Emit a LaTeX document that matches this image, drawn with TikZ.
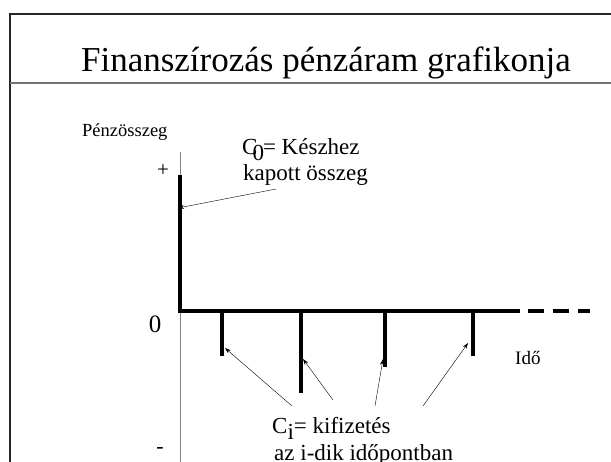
\documentclass[tikz,border=0pt]{standalone}
\usepackage{fontspec}
\setmainfont{Liberation Serif}
\usetikzlibrary{arrows.meta}
\tikzset{
  lbl/.style={inner sep=0pt, font=\fontsize{23}{25}\selectfont},
  bar/.style={line width=4pt, black},
  ptr/.style={thin, -{Stealth[length=6pt,width=4pt]}},
}
\begin{document}
\begin{tikzpicture}[x=1pt,y=-1pt]
\useasboundingbox (0,0) rectangle (611,461);
\clip (0,0) rectangle (611,461);
% frame
\draw[line width=1.2pt, black!85] (10,480) -- (10,14) -- (630,14);
\draw[line width=1.5pt, black!55] (10,83) -- (630,83);
\node[inner sep=0pt, anchor=base, font=\fontsize{35}{40}\selectfont] (title) at (326,71) {Finanszírozás pénzáram grafikonja};
% axis
\draw[line width=1pt, black!50] (180,152) -- (180,470);
\coordinate (o) at (180,311);
\coordinate (top) at (180,177);
\draw[bar, line cap=rect] (top) -- (o) -- (518,311);
\draw[bar, dash pattern=on 16pt off 9pt] (528,311) -- (590,311);
% payment bars
\coordinate (b1) at (222,311); \coordinate (e1) at (222,356);
\coordinate (b2) at (301,311); \coordinate (e2) at (301,393);
\coordinate (b3) at (385,311); \coordinate (e3) at (385,367);
\coordinate (b4) at (473,311); \coordinate (e4) at (473,356);
\foreach \i in {1,2,3,4} \draw[bar] (b\i) -- (e\i);
% labels
\node[lbl, anchor=base west, font=\fontsize{18.5}{20}\selectfont] (yl) at (82,136) {Pénzösszeg};
\node[lbl, font=\fontsize{21}{22}\selectfont] (plus) at (163,171) {+};
\node[lbl, font=\fontsize{25}{26}\selectfont] (zero) at (155,324) {0};
\node[lbl, font=\fontsize{22}{24}\selectfont] (minus) at (160,450) {-};
\node[lbl, anchor=base west, font=\fontsize{19}{20}\selectfont] (ido) at (515,364) {Idő};
\node[lbl, anchor=base west] (c0a) at (242,154) {C\kern-5pt\raisebox{-6pt}{0}\kern-1pt= Készhez};
\node[lbl, anchor=base west] (c0b) at (243,180) {kapott összeg};
\node[lbl, anchor=base west] (cia) at (272,433) {C\raisebox{-6pt}{i}= kifizetés};
\node[lbl, anchor=base west] (cib) at (274,460) {az i-dik időpontban};
% pointers
\coordinate (s0) at (276,189); \coordinate (t0) at (178,208);
\draw[ptr] (s0) -- (t0);
\coordinate (s1) at (292,406); \coordinate (t1) at (225,348);
\coordinate (s2) at (333,400); \coordinate (t2) at (303,359);
\coordinate (s3) at (375,406); \coordinate (t3) at (383,359);
\coordinate (s4) at (423,406); \coordinate (t4) at (468,343);
\foreach \i in {1,2,3,4} \draw[ptr] (s\i) -- (t\i);
\end{tikzpicture}
\end{document}
